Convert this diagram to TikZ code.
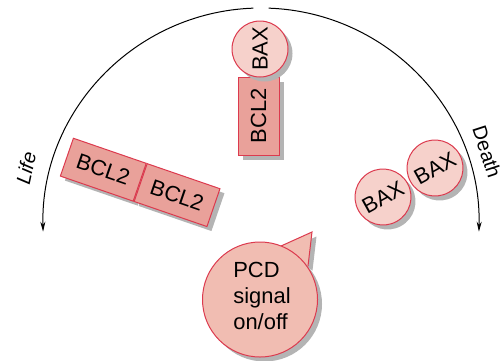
\documentclass[tikz,border=0pt]{standalone}
\usepackage{fontspec}
\setmainfont{Liberation Sans}
\usetikzlibrary{arrows.meta,shadows,shapes.geometric,calc}
\definecolor{redline}{HTML}{DC3A4E}
\definecolor{baxfill}{HTML}{F6D1CB}
\definecolor{bclfill}{HTML}{E9A19A}
\definecolor{pcdfill}{HTML}{F1BDB2}
\definecolor{shadowc}{HTML}{B4B4B4}
\tikzset{
  shd/.style={drop shadow={shadow xshift=4.5bp,shadow yshift=-4.5bp,opacity=1,fill=shadowc}},
  mol/.style={draw=redline, line width=1bp, font=\fontsize{22}{26}\selectfont, inner sep=0pt, shd},
  baxc/.style={mol, circle, fill=baxfill, minimum size=56bp},
  bclr/.style={mol, rectangle, fill=bclfill, minimum width=77bp, minimum height=40bp},
  fate/.style={-{Stealth[length=10bp,width=5bp]}, line width=1bp, black},
  fatelbl/.style={font=\fontsize{20}{24}\selectfont, inner sep=0pt}
}
\begin{document}
\begin{tikzpicture}[x=1bp,y=-1bp]
\useasboundingbox (0,0) rectangle (503,360);
% fate arcs
\coordinate (c) at (261,226);
\draw[fate] ($(c)+(-92:218)$) arc[start angle=-92, end angle=-181.5, radius=218];
\draw[fate] ($(c)+(-88:218)$) arc[start angle=-88, end angle=1.5, radius=218];
\node[fatelbl, rotate=78, font=\fontsize{20}{24}\selectfont\itshape] (life) at (26,168) {Life};
\node[fatelbl, rotate=-72] (death) at (487,152) {Death};
% top complex
\node[bclr, rotate=90, minimum width=78bp, minimum height=41bp] (bclv) at (258.5,116) {BCL2};
\node[baxc, rotate=90] (baxtop) at (260,49) {BAX};
% BCL2 dimer
\node[bclr, rotate=-19] (bcla) at (103.3,169.7) {BCL2};
\node[bclr, rotate=-19, anchor=west] (bclb) at (bcla.east) {BCL2};
% BAX dimer
\node[baxc, rotate=29] (baxa) at (383,197) {BAX};
\node[baxc, rotate=29] (baxb) at (435,168) {BAX};
% PCD signal
\coordinate (t1) at (312,232);
\coordinate (t2) at (281,246);
\coordinate (t3) at (308,266);
\filldraw[fill=pcdfill, draw=redline, line width=1bp, shd] (t2) -- (t1) -- (t3);
\node[mol, circle, fill=pcdfill, minimum size=115bp] (pcd) at (260,299.5) {};
\node[font=\fontsize{22}{26}\selectfont, align=left, inner sep=0pt] (pcdtext) at (262,296) {PCD\\signal\\on/off};
\end{tikzpicture}
\end{document}
